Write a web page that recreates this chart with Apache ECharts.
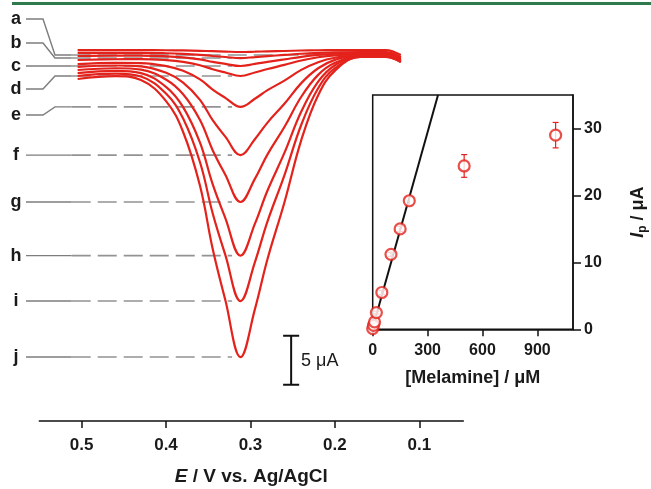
<!DOCTYPE html>
<html>
<head>
<meta charset="utf-8">
<script src="https://cdn.jsdelivr.net/npm/echarts@6/dist/echarts.min.js"></script>
<style>
  html, body { margin: 0; padding: 0; background: #fff; }
  #chart { width: 651px; height: 489px; }
</style>
</head>
<body>
<div id="chart"></div>
<script>
// potential grid (V vs Ag/AgCl), shared by all voltammograms
const potential = [0.505, 0.46, 0.43, 0.40, 0.38, 0.36, 0.345, 0.33, 0.312, 0.295, 0.28, 0.26, 0.24, 0.22, 0.20, 0.17, 0.14, 0.122];

// cathodic current (uA), plotted downward
const curveA = [0.11, 0.11, 0.11, 0.13, 0.15, 0.19, 0.23, 0.27, 0.31, 0.28, 0.24, 0.21, 0.16, 0.13, 0.12, 0.11, 0.11, 0.62];
const curveB = [0.41, 0.40, 0.40, 0.44, 0.50, 0.60, 0.72, 0.82, 0.93, 0.83, 0.73, 0.61, 0.49, 0.40, 0.34, 0.31, 0.31, 0.82];
const curveC = [0.72, 0.68, 0.68, 0.75, 0.86, 1.07, 1.32, 1.52, 1.74, 1.53, 1.32, 1.07, 0.80, 0.60, 0.49, 0.41, 0.41, 0.92];
const curveD = [1.13, 1.05, 1.03, 1.14, 1.32, 1.66, 2.07, 2.40, 2.76, 2.41, 2.05, 1.63, 1.18, 0.85, 0.65, 0.52, 0.52, 1.03];
const curveE = [1.54, 1.42, 1.44, 1.75, 2.23, 3.11, 4.15, 4.99, 5.92, 5.09, 4.21, 3.23, 2.14, 1.35, 0.90, 0.62, 0.62, 1.13];
const curveF = [1.84, 1.69, 1.77, 2.44, 3.43, 5.20, 7.27, 8.96, 10.84, 9.22, 7.52, 5.60, 3.49, 1.97, 1.12, 0.62, 0.62, 1.13];
const curveG = [2.15, 1.97, 2.12, 3.14, 4.63, 7.26, 10.34, 12.85, 15.63, 13.27, 10.77, 7.97, 4.88, 2.65, 1.42, 0.72, 0.72, 1.23];
const curveH = [2.46, 2.24, 2.47, 3.89, 5.94, 9.57, 13.81, 17.27, 21.11, 17.87, 14.46, 10.62, 6.39, 3.34, 1.66, 0.72, 0.72, 1.23];
const curveI = [2.76, 2.52, 2.82, 4.58, 7.11, 11.57, 16.78, 21.03, 25.75, 21.79, 17.61, 12.91, 7.74, 4.01, 1.96, 0.82, 0.82, 1.33];
const curveJ = [3.07, 2.78, 3.17, 5.35, 8.48, 13.98, 20.41, 25.65, 31.47, 26.60, 21.46, 15.68, 9.31, 4.72, 2.21, 0.82, 0.82, 1.33];
const curveNames = ['a', 'b', 'c', 'd', 'e', 'f', 'g', 'h', 'i', 'j'];

const eTicks = [0.1, 0.2, 0.3, 0.4, 0.5];

// inset: calibration
const melamine = [0, 5, 10, 20, 50, 100, 150, 200, 500, 1000];
const peakCurrent = [0.1, 0.6, 1.1, 2.5, 5.5, 11.2, 15.0, 19.2, 24.4, 29.0];
const peakError = [0.1, 0.1, 0.1, 0.2, 0.3, 0.3, 0.4, 0.6, 1.7, 1.9];
const fitLine = [[0, 0.2], [357, 35]];
const concTicks = [0, 300, 600, 900];
const ipTicks = [0, 10, 20, 30];

// scale bar (5 uA)
const scaleBarE = 0.252;
const scaleBarTop = 29.3;
const scaleBarSize = 5;

const RED = '#e4221c';
const GRAY = '#939393';
const FONT = '"Liberation Sans", Arial, sans-serif';

const curves = [curveA, curveB, curveC, curveD, curveE, curveF, curveG, curveH, curveI, curveJ];
const leaderEndE = 0.512;   // where the solid leader turns into the dashed level line
const labelY = [19, 43, null, 89, 115, null, null, null, null, null]; // null: label sits on the peak level

const peaks = curves.map(c => {
  let k = 0;
  c.forEach((v, i) => { if (v > c[k]) k = i; });
  return [potential[k], c[k]];
});

const chart = echarts.init(document.getElementById('chart'));

const boldLabel = (size) => ({ fontFamily: FONT, fontWeight: 'bold', fontSize: size, color: '#1a1a1a' });

const series = [];

peaks.forEach((p, i) => {
  series.push({
    type: 'line', xAxisIndex: 0, yAxisIndex: 0, z: 1,
    data: [[leaderEndE, p[1]], [p[0] + 0.01, p[1]]],
    showSymbol: false, silent: true,
    lineStyle: { color: GRAY, width: 1.6, type: [19, 7] }
  });
});

curves.forEach((c, i) => {
  series.push({
    name: curveNames[i],
    type: 'line', xAxisIndex: 0, yAxisIndex: 0, z: 3,
    data: potential.map((e, k) => [e, c[k]]),
    showSymbol: false, smooth: 0.4,
    lineStyle: { color: RED, width: 2.2 }
  });
});

series.push({
  type: 'line', xAxisIndex: 0, yAxisIndex: 0, z: 3,
  data: [
    [scaleBarE + 0.0095, scaleBarTop], [scaleBarE - 0.0095, scaleBarTop], [scaleBarE, scaleBarTop],
    [scaleBarE, scaleBarTop + scaleBarSize],
    [scaleBarE + 0.0095, scaleBarTop + scaleBarSize], [scaleBarE - 0.0095, scaleBarTop + scaleBarSize]
  ],
  showSymbol: false, silent: true,
  lineStyle: { color: '#111', width: 2 }
});

// inset
series.push({
  type: 'line', xAxisIndex: 2, yAxisIndex: 2, z: 2,
  data: fitLine, showSymbol: false,
  lineStyle: { color: '#111', width: 2 }
});
series.push({
  type: 'custom', xAxisIndex: 2, yAxisIndex: 2, z: 3,
  data: melamine.map((m, i) => [m, peakCurrent[i] - peakError[i], peakCurrent[i] + peakError[i]]),
  encode: { x: 0, y: [1, 2] },
  renderItem: (params, api) => {
    const x = api.value(0);
    const lo = api.coord([x, api.value(1)]);
    const hi = api.coord([x, api.value(2)]);
    const st = { stroke: RED, lineWidth: 1.2 };
    return {
      type: 'group',
      children: [
        { type: 'line', shape: { x1: lo[0], y1: lo[1], x2: hi[0], y2: hi[1] }, style: st },
        { type: 'line', shape: { x1: lo[0] - 3, y1: lo[1], x2: lo[0] + 3, y2: lo[1] }, style: st },
        { type: 'line', shape: { x1: hi[0] - 3, y1: hi[1], x2: hi[0] + 3, y2: hi[1] }, style: st }
      ]
    };
  }
});
series.push({
  type: 'scatter', xAxisIndex: 2, yAxisIndex: 2, z: 4, clip: false,
  data: melamine.map((m, i) => [m, peakCurrent[i]]),
  symbol: 'circle', symbolSize: 11,
  itemStyle: { color: '#fff', borderColor: RED, borderWidth: 2.2 }
});

const option = {
  animation: false,
  backgroundColor: '#fff',
  grid: [
    { left: 0, right: 187.7, top: 0, bottom: 68 },
    { left: 39.3, right: 187.7, top: 400, bottom: 68 },
    { left: 372.7, right: 78, top: 95, bottom: 159.7, show: true, borderColor: '#111', borderWidth: 1.5, backgroundColor: 'transparent' }
  ],
  xAxis: [
    { gridIndex: 0, type: 'value', min: 0.048, max: 0.597, inverse: true, show: false },
    {
      gridIndex: 1, type: 'value', min: 0.048, max: 0.55, inverse: true,
      axisLine: { onZero: false, lineStyle: { color: '#111', width: 1.5 } },
      axisTick: { customValues: eTicks, length: 7, lineStyle: { color: '#111', width: 1.5 } },
      axisLabel: { customValues: eTicks, formatter: v => v.toFixed(1), margin: 16, ...boldLabel(17) },
      splitLine: { show: false },
      name: '{e|E}{n| / V vs. Ag/AgCl}', nameLocation: 'middle', nameGap: 46,
      nameTextStyle: {
        rich: {
          e: { fontFamily: FONT, fontSize: 19, fontWeight: 'bold', fontStyle: 'italic', color: '#1a1a1a' },
          n: { fontFamily: FONT, fontSize: 19, fontWeight: 'bold', color: '#1a1a1a' }
        }
      }
    },
    {
      gridIndex: 2, type: 'value', min: 0, max: 1095,
      axisLine: { onZero: false, lineStyle: { color: '#111', width: 1.5 } },
      axisTick: { customValues: concTicks, length: 7, lineStyle: { color: '#111', width: 1.5 } },
      axisLabel: { customValues: concTicks, margin: 13, ...boldLabel(16) },
      splitLine: { show: false },
      name: '[Melamine] / μM', nameLocation: 'middle', nameGap: 40,
      nameTextStyle: boldLabel(18)
    }
  ],
  yAxis: [
    { gridIndex: 0, type: 'value', min: -5, max: 38, inverse: true, show: false },
    { gridIndex: 1, type: 'value', show: false },
    {
      gridIndex: 2, type: 'value', min: 0, max: 35, position: 'right',
      axisLine: { show: true, onZero: false, lineStyle: { color: '#111', width: 1.5 } },
      axisTick: { show: true, customValues: ipTicks, length: 8, lineStyle: { color: '#111', width: 1.5 } },
      axisLabel: { customValues: ipTicks, margin: 11, ...boldLabel(16) },
      splitLine: { show: false },
      name: '{i|I}{s|p}{n| / μA}', nameLocation: 'middle', nameGap: 55, nameRotate: 90,
      nameTextStyle: {
        rich: {
          i: { fontFamily: FONT, fontSize: 18, fontWeight: 'bold', fontStyle: 'italic', color: '#1a1a1a' },
          s: { fontFamily: FONT, fontSize: 12, fontWeight: 'bold', color: '#1a1a1a', padding: [9, 0, 0, 0] },
          n: { fontFamily: FONT, fontSize: 18, fontWeight: 'bold', color: '#1a1a1a' }
        }
      }
    }
  ],
  series: series
};

chart.setOption(option);

// curve letters and their leader lines, hooked onto the peak levels
const graphic = [
  { type: 'rect', left: 12, top: 2, shape: { width: 639, height: 3 }, style: { fill: '#2e7a4c' } },
  { type: 'text', left: 301, top: 352, style: { text: '5 μA', font: '18px ' + FONT, fill: '#1a1a1a' } }
];
peaks.forEach((p, i) => {
  const end = chart.convertToPixel({ xAxisIndex: 0, yAxisIndex: 0 }, [leaderEndE, p[1]]);
  const ly = labelY[i] == null ? end[1] : labelY[i];
  graphic.push({
    type: 'polyline', silent: true,
    shape: { points: [[26, ly], [43, ly], [55, end[1]], [end[0], end[1]]] },
    style: { stroke: '#7d7d7d', lineWidth: 1.4, fill: null }
  });
  graphic.push({
    type: 'text', x: 16, y: ly,
    style: { text: curveNames[i], font: 'bold 18px ' + FONT, fill: '#1a1a1a', align: 'center', verticalAlign: 'middle' }
  });
});
chart.setOption({ graphic: graphic });
</script>
</body>
</html>
